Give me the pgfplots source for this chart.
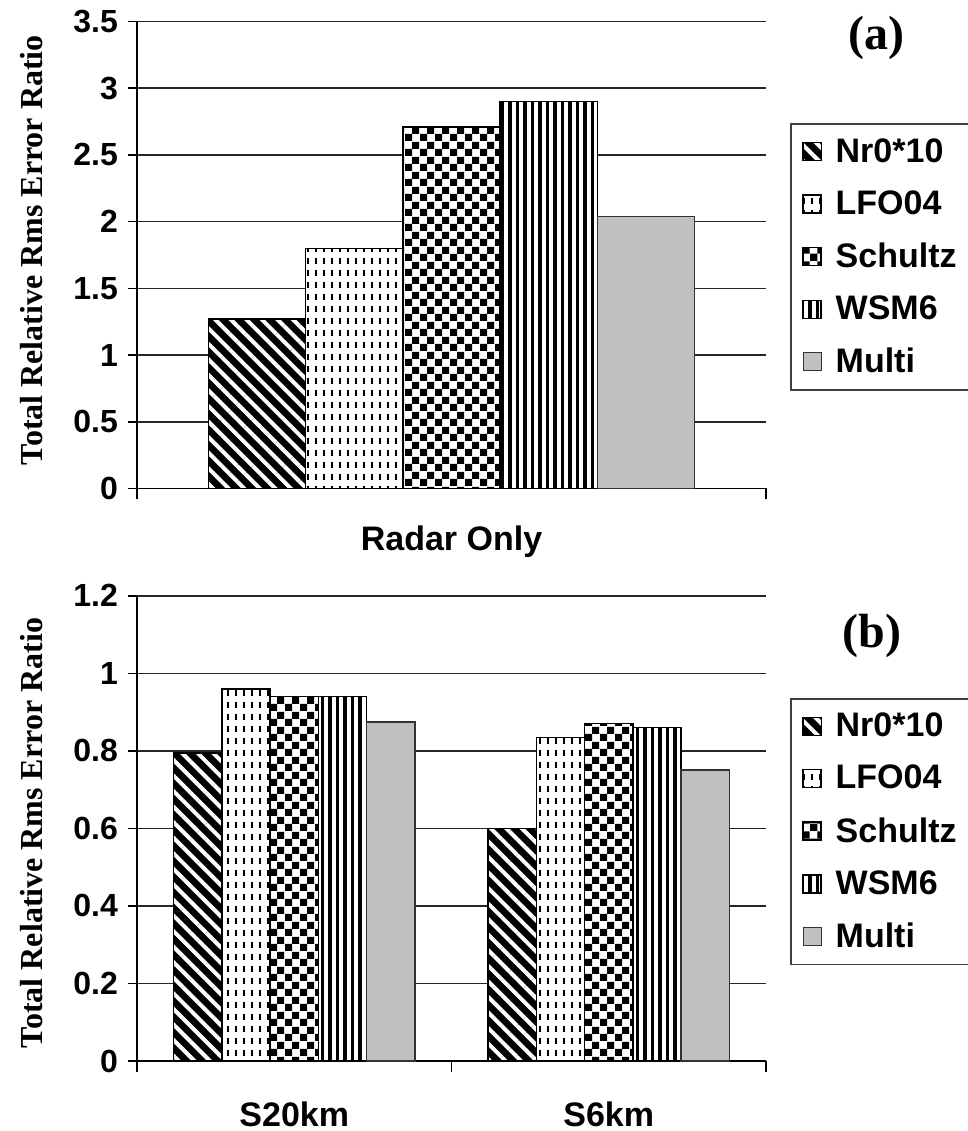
\documentclass[border=0pt]{standalone}
\usepackage{fontspec}
\setmainfont{Liberation Sans}
\newfontfamily\timesfont{Liberation Serif}
\usepackage{pgfplots}
\pgfplotsset{compat=1.18}
\usetikzlibrary{patterns,patterns.meta}

\definecolor{silver}{RGB}{192,192,192}

\pgfdeclarepatternformonly{checker}{\pgfpointorigin}{\pgfqpoint{7.5pt}{7.5pt}}{\pgfqpoint{7.5pt}{7.5pt}}{%
  \pgfpathrectangle{\pgfpointorigin}{\pgfqpoint{3.75pt}{3.75pt}}%
  \pgfpathrectangle{\pgfqpoint{3.75pt}{3.75pt}}{\pgfqpoint{3.75pt}{3.75pt}}%
  \pgfusepath{fill}}
\pgfdeclarepatternformonly{vdashes}{\pgfqpoint{-1pt}{-1pt}}{\pgfqpoint{5pt}{7pt}}{\pgfqpoint{4pt}{6pt}}{%
  \pgfsetlinewidth{0.75pt}%
  \pgfpathmoveto{\pgfqpoint{2pt}{1.5pt}}\pgfpathlineto{\pgfqpoint{2pt}{4.5pt}}%
  \pgfusepath{stroke}}

\pgfplotsset{
  myaxis/.style={
    scale only axis, width=314.5pt, anchor=south west,
    axis x line*=bottom, axis y line*=left,
    axis line style={black, line width=0.75pt, -},
    ymin=0,
    ymajorgrids, major grid style={black!85, line width=0.8pt},
    tick align=outside, major tick length=4.5pt, minor tick length=5.5pt,
    tick style={black, line width=0.75pt},
    major x tick style={draw=none},
    ybar,
    /pgf/number format/assume math mode=true,
    yticklabel style={font=\bfseries\fontsize{16}{18}\selectfont, xshift=-1.5pt},
    xticklabel style={font=\bfseries\fontsize{17}{19}\selectfont, anchor=center, yshift=-22pt},
    ylabel={Total Relative Rms Error Ratio},
    ylabel style={font=\timesfont\bfseries\fontsize{16}{18}\selectfont, anchor=base},
    title style={font=\timesfont\bfseries\fontsize{24}{26}\selectfont, anchor=center, yshift=0pt},
    legend image code/.code={\draw[##1, line width=0.5pt] (0pt,-4.5pt) rectangle (9pt,4.5pt);},
    legend style={anchor=north west, draw=black!75, line width=0.8pt,
      font=\bfseries\fontsize{17}{19}\selectfont, inner xsep=6pt, inner ysep=5pt,
      row sep=8.75pt, legend cell align=left,
      /tikz/every odd column/.append style={column sep=5pt}},
  },
  snr/.style={draw=black, line width=0.75pt, preaction={fill=black},
    pattern={Lines[angle=-45,distance=5.5pt,line width=2pt]}, pattern color=white},
  slfo/.style={draw=black, line width=0.75pt, preaction={fill=white},
    pattern=vdashes, pattern color=black},
  ssch/.style={draw=black, line width=0.75pt, preaction={fill=white},
    pattern=checker, pattern color=black},
  swsm/.style={draw=black, line width=0.75pt, preaction={fill=white},
    pattern={Lines[angle=90,distance=3.75pt,line width=1.6pt]}, pattern color=black},
  smul/.style={draw=black!80, line width=0.75pt, fill=silver},
}

\begin{document}
\begin{tikzpicture}
\path[use as bounding box] (0,0) rectangle (484pt,565.5pt);

% ---------- (a) ----------
\begin{axis}[myaxis,
  at={(68.5pt,321.25pt)}, height=233.5pt,
  ymax=3.5, ytick={0,0.5,1,1.5,2,2.5,3,3.5},
  xmin=-0.5, xmax=0.5, xtick={0}, xticklabels={Radar Only},
  minor xtick={-0.5,0.5},
  bar width=0.1545,
  ylabel style={at={(axis description cs:-0.151,0.51)}},
  title={(a)}, title style={at={(axis description cs:1.176,0.938)}},
  legend style={at={(axis description cs:1.038,0.7816)}},
]
\addplot[snr, bar shift=-0.309] coordinates {(0,1.27)};
\addplot[slfo, bar shift=-0.1545] coordinates {(0,1.80)};
\addplot[ssch, bar shift=0] coordinates {(0,2.71)};
\addplot[swsm, bar shift=0.1545] coordinates {(0,2.90)};
\addplot[smul, bar shift=0.309] coordinates {(0,2.04)};
\legend{\makebox[70pt][l]{Nr0*10},\makebox[70pt][l]{LFO04},\makebox[70pt][l]{Schultz},\makebox[70pt][l]{WSM6},\makebox[70pt][l]{Multi}}
\end{axis}

% ---------- (b) ----------
\begin{axis}[myaxis,
  at={(68.5pt,35pt)}, height=232.6pt,
  ymax=1.2, ytick={0,0.2,0.4,0.6,0.8,1,1.2},
  xmin=-0.5, xmax=1.5, xtick={0,1}, xticklabels={S20km,S6km},
  minor xtick={-0.5,0.5,1.5},
  bar width=0.1536,
  ylabel style={at={(axis description cs:-0.151,0.49)}},
  title={(b)}, title style={at={(axis description cs:1.168,0.888)}},
  legend style={at={(axis description cs:1.038,0.780)}},
]
\addplot[snr, bar shift=-0.3072] coordinates {(0,0.795) (1,0.60)};
\addplot[slfo, bar shift=-0.1536] coordinates {(0,0.96) (1,0.835)};
\addplot[ssch, bar shift=0] coordinates {(0,0.94) (1,0.87)};
\addplot[swsm, bar shift=0.1536] coordinates {(0,0.94) (1,0.86)};
\addplot[smul, bar shift=0.3072] coordinates {(0,0.875) (1,0.75)};
\legend{\makebox[70pt][l]{Nr0*10},\makebox[70pt][l]{LFO04},\makebox[70pt][l]{Schultz},\makebox[70pt][l]{WSM6},\makebox[70pt][l]{Multi}}
\end{axis}
\end{tikzpicture}
\end{document}
